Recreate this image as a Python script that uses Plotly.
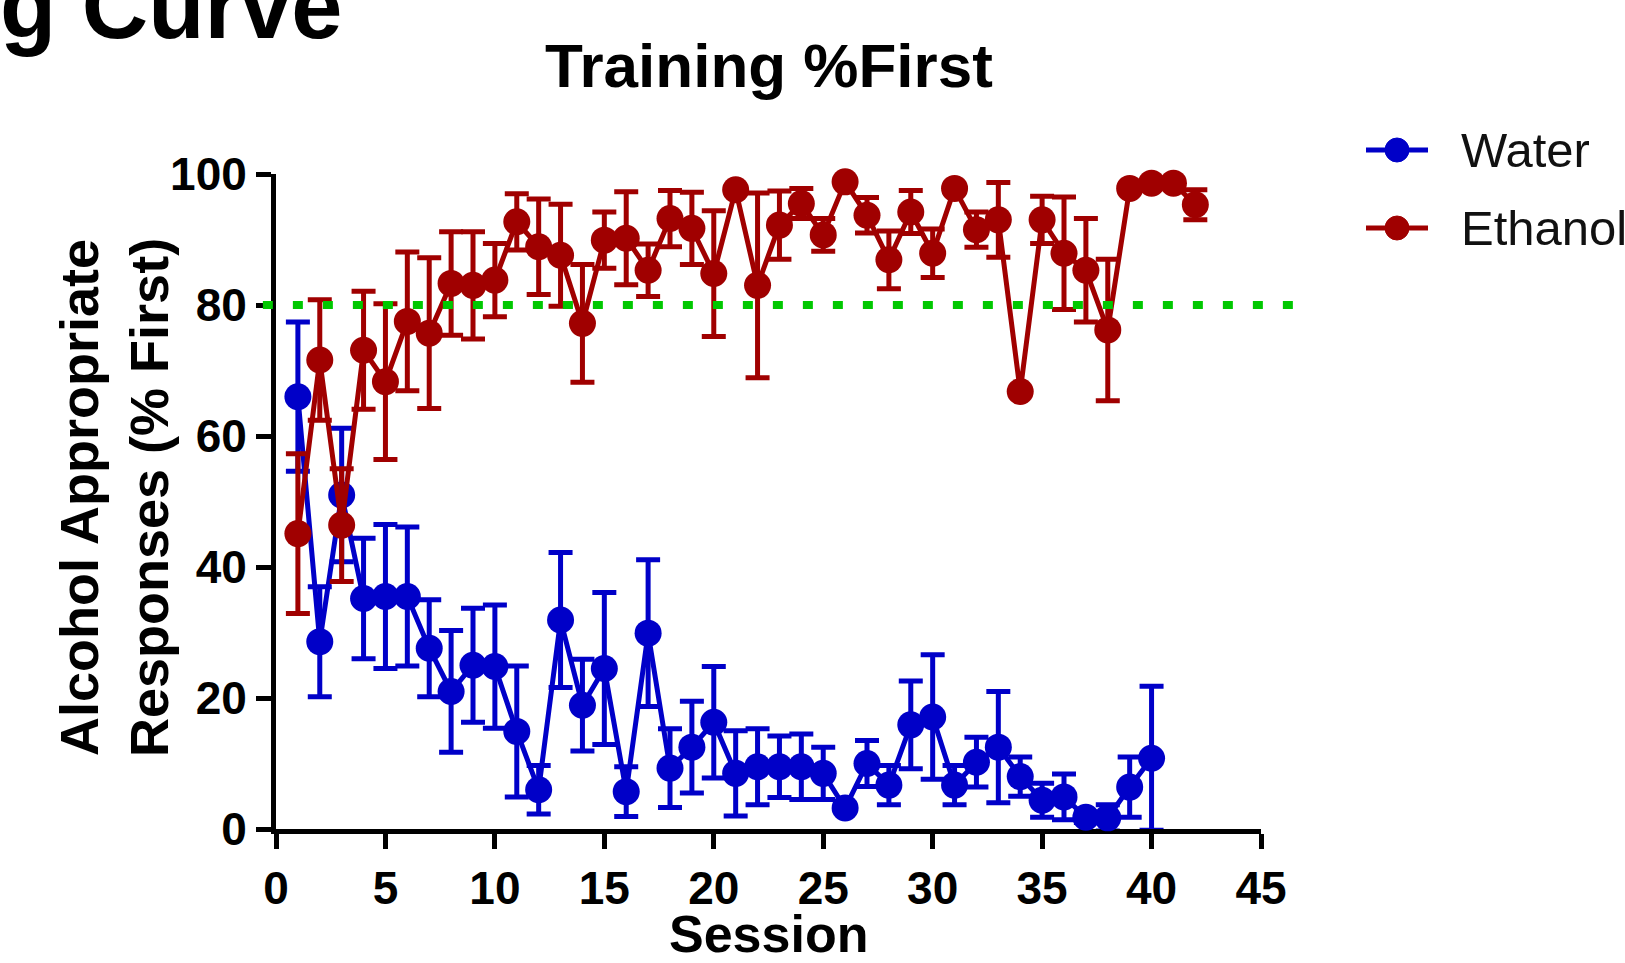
import plotly.graph_objects as go

# ---------------- data ----------------
water_sessions = list(range(1, 41))
water_mean = [66.0, 28.6, 51.0, 35.2, 35.5, 35.5, 27.6, 21.0, 25.0, 24.8,
              14.9, 6.0, 31.9, 18.9, 24.5, 5.7, 29.9, 9.3, 12.5, 16.3,
              8.5, 9.5, 9.5, 9.5, 8.5, 3.2, 10.0, 6.7, 15.9, 17.1,
              6.7, 10.2, 12.5, 8.0, 4.4, 4.9, 1.8, 1.7, 6.4, 10.8]
water_sem = [11.4, 8.4, 10.2, 9.2, 11.0, 10.6, 7.4, 9.3, 8.7, 9.4,
             10.0, 3.7, 10.3, 7.0, 11.6, 3.8, 11.2, 6.0, 7.0, 8.5,
             6.5, 5.8, 4.7, 5.0, 4.0, 0.0, 3.5, 3.0, 6.7, 9.5,
             3.0, 3.8, 8.5, 3.0, 2.6, 3.5, 0.8, 2.0, 4.6, 11.0]

ethanol_sessions = list(range(1, 43))
ethanol_mean = [45.1, 71.6, 46.4, 73.1, 68.3, 77.5, 75.7, 83.3, 83.0, 83.8,
                92.7, 88.9, 87.6, 77.2, 89.9, 90.2, 85.3, 93.2, 91.7, 84.8,
                97.6, 83.0, 92.2, 95.5, 90.7, 98.8, 93.7, 86.9, 94.2, 87.9,
                97.8, 91.5, 93.0, 66.8, 93.0, 87.9, 85.3, 76.2, 97.8, 98.6,
                98.6, 95.3]
ethanol_sem = [12.2, 9.2, 8.6, 9.0, 11.9, 10.6, 11.5, 7.9, 8.2, 5.6,
               4.3, 7.3, 7.8, 9.0, 4.3, 7.1, 4.0, 4.3, 5.5, 9.6,
               0.0, 14.1, 5.2, 2.3, 2.5, 0.0, 2.7, 4.4, 3.3, 3.7,
               0.0, 2.7, 5.7, 0.0, 3.6, 8.6, 7.9, 10.8, 0.0, 0.0,
               0.0, 2.3]

series_names = ["Water", "Ethanol"]
series_colors = ["#0000C8", "#A00000"]
criterion = 80
criterion_span = [-0.6, 47.2]   # session units the dotted criterion line covers

x_ticks = [0, 5, 10, 15, 20, 25, 30, 35, 40, 45]
y_ticks = [0, 20, 40, 60, 80, 100]
x_range = [0, 45]
y_range = [0, 100]

title_text = "Training %First"
corner_text = "g Curve"
x_title = "Session"
y_title = "Alcohol Appropriate<br>Responses (% First)"

# ---------------- layout geometry ----------------
W, H = 1625, 963
L, R, T, B = 276, 364, 174, 134
PW, PH = W - L - R, H - T - B
FONT = "Liberation Sans, Arial, sans-serif"


def px_x(px):
    return (px - L) / PW


def px_y(py):
    return (H - B - py) / PH


def data_to_paper_x(v):
    return (v - x_range[0]) / (x_range[1] - x_range[0])


def data_to_paper_y(v):
    return (v - y_range[0]) / (y_range[1] - y_range[0])


fig = go.Figure()

for xs, ys, es, name, col in [
    (water_sessions, water_mean, water_sem, series_names[0], series_colors[0]),
    (ethanol_sessions, ethanol_mean, ethanol_sem, series_names[1], series_colors[1]),
]:
    fig.add_trace(go.Scatter(
        x=xs, y=ys, name=name, mode="lines+markers",
        line=dict(color=col, width=5),
        marker=dict(color=col, size=27),
        error_y=dict(type="data", array=es, visible=True, color=col,
                     thickness=5, width=12),
        cliponaxis=False, showlegend=False,
    ))

axis_common = dict(
    showline=True, linewidth=5, linecolor="black", mirror=False,
    ticks="outside", ticklen=15, tickwidth=5, tickcolor="black",
    showgrid=False, zeroline=False,
    tickfont=dict(family=FONT, size=46, color="black", weight="bold"),
    layer="below traces",
)

fig.update_xaxes(range=x_range, tickvals=x_ticks, **axis_common)
fig.update_yaxes(range=y_range, tickvals=y_ticks, **axis_common)

shapes = [
    dict(type="line", xref="paper", yref="paper",
         x0=data_to_paper_x(criterion_span[0]), x1=data_to_paper_x(criterion_span[1]),
         y0=data_to_paper_y(criterion), y1=data_to_paper_y(criterion), layer="above",
         line=dict(color="#00C800", width=8, dash="10px,20px")),
]

annotations = [
    dict(text=title_text, xref="paper", yref="paper", x=0.5, y=px_y(65),
         xanchor="center", yanchor="middle", showarrow=False,
         font=dict(family=FONT, size=62, color="black", weight="bold")),
    dict(text=corner_text, xref="paper", yref="paper", x=px_x(-2), y=px_y(6),
         xanchor="left", yanchor="middle", showarrow=False,
         font=dict(family=FONT, size=92, color="black", weight="bold")),
    dict(text=x_title, xref="paper", yref="paper", x=px_x(768), y=px_y(934),
         xanchor="center", yanchor="middle", showarrow=False,
         font=dict(family=FONT, size=52, color="black", weight="bold")),
    dict(text=y_title, xref="paper", yref="paper", x=px_x(114), y=px_y(498),
         xanchor="center", yanchor="middle", showarrow=False, textangle=-90,
         font=dict(family=FONT, size=54, color="black", weight="bold")),
]

# manual legend (line + marker + label)
legend_rows = [150, 228]
for name, col, row in zip(series_names, series_colors, legend_rows):
    shapes.append(dict(type="line", xref="paper", yref="paper",
                       x0=px_x(1366), x1=px_x(1428), y0=px_y(row), y1=px_y(row),
                       line=dict(color=col, width=5)))
    shapes.append(dict(type="circle", xref="paper", yref="paper",
                       xsizemode="pixel", ysizemode="pixel",
                       xanchor=px_x(1397), yanchor=px_y(row),
                       x0=-12, x1=12, y0=-12, y1=12,
                       fillcolor=col, line=dict(color=col, width=1)))
    annotations.append(dict(text=name, xref="paper", yref="paper",
                            x=px_x(1459), y=px_y(row), xanchor="left", yanchor="middle",
                            showarrow=False,
                            font=dict(family=FONT, size=49, color="#111111")))

fig.update_layout(
    width=W, height=H,
    margin=dict(l=L, r=R, t=T, b=B, pad=0),
    plot_bgcolor="white", paper_bgcolor="white",
    shapes=shapes, annotations=annotations,
    showlegend=False,
)

fig.write_html("out.html", config={"displayModeBar": False},
               post_script="document.body.style.margin='0';document.body.style.overflow='hidden';")
